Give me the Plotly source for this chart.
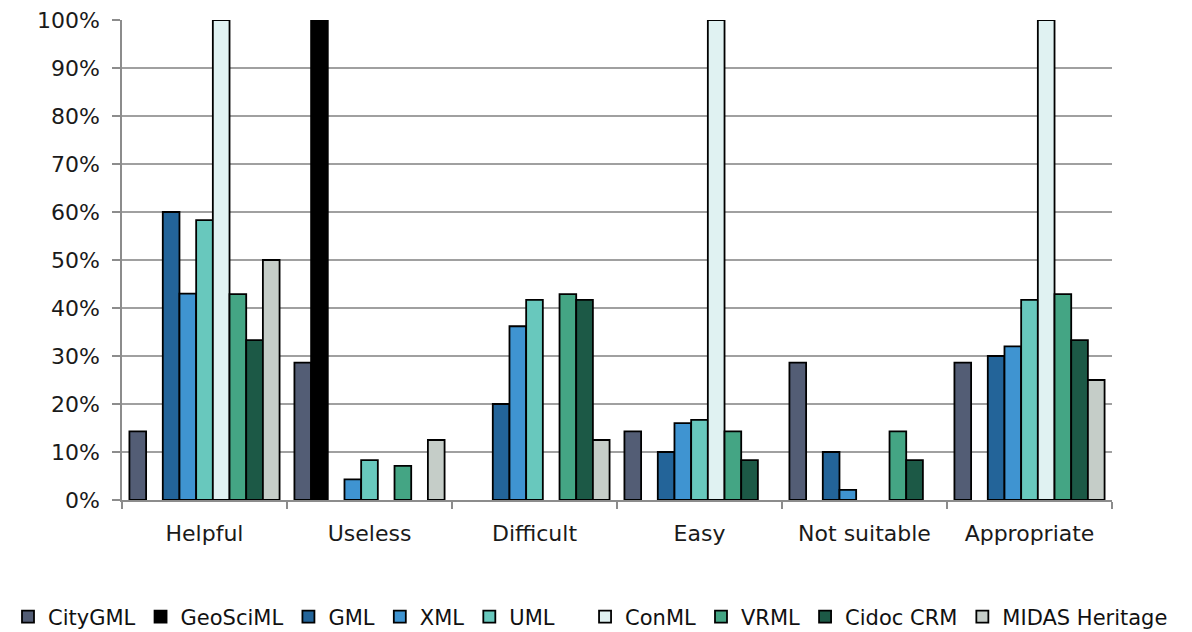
import plotly.graph_objects as go

categories = ["Helpful", "Useless", "Difficult", "Easy", "Not suitable", "Appropriate"]

series_names = ["CityGML", "GeoSciML", "GML", "XML", "UML", "ConML", "VRML", "Cidoc CRM", "MIDAS Heritage"]

citygml = [14.3, 28.6, 0, 14.3, 28.6, 28.6]
geosciml = [0, 100, 0, 0, 0, 0]
gml = [60, 0, 20, 10, 10, 30]
xml = [43, 4.3, 36.2, 16, 2.1, 32]
uml = [58.3, 8.3, 41.7, 16.7, 0, 41.7]
conml = [100, 0, 0, 100, 0, 100]
vrml = [42.9, 7.1, 42.9, 14.3, 14.3, 42.9]
cidoc = [33.3, 0, 41.7, 8.3, 8.3, 33.3]
midas = [50, 12.5, 12.5, 0, 0, 25]

series_values = [citygml, geosciml, gml, xml, uml, conml, vrml, cidoc, midas]
colors = ["#535d75", "#000000", "#236499", "#3f94d1", "#68c8bd",
          "#e0f2f2", "#44a584", "#1c5946", "#c5cdc8"]

y_ticks = list(range(0, 101, 10))
y_labels = [f"{v}%" for v in y_ticks]

fig = go.Figure()
for i, (name, vals, col) in enumerate(zip(series_names, series_values, colors)):
    fig.add_trace(go.Bar(
        name=name, x=categories,
        y=[v if v else None for v in vals],
        marker=dict(color=col, line=dict(color="#000000", width=1.8)),
        legend="legend" if i < 5 else "legend2",
    ))

font_family = "DejaVu Sans, sans-serif"
leg_common = dict(
    orientation="h", xref="container", yref="container",
    y=0.024, yanchor="middle",
    font=dict(size=21, color="#111111"), itemwidth=30, tracegroupgap=0,
    bgcolor="rgba(0,0,0,0)",
)
fig.update_layout(
    width=1184, height=624,
    margin=dict(l=114, r=80, t=12, b=132, autoexpand=False),
    paper_bgcolor="white", plot_bgcolor="white",
    barmode="group", bargap=0.09, bargroupgap=0,
    font=dict(family=font_family, size=22, color="#1a1a1a"),
    showlegend=True,
    legend=dict(x=-0.008, xanchor="left", **leg_common),
    legend2=dict(x=0.984, xanchor="right", **leg_common),
)
fig.update_xaxes(
    showline=True, linecolor="#8c8c8c", linewidth=1.5,
    ticks="outside", tickson="boundaries", ticklen=7, tickcolor="#8c8c8c", tickwidth=1.5,
    tickfont=dict(size=22), showgrid=False, ticklabelstandoff=13, automargin=False,
)
fig.update_yaxes(
    range=[0, 100], tickvals=y_ticks, ticktext=y_labels,
    showline=True, linecolor="#8c8c8c", linewidth=1.5,
    ticks="outside", ticklen=8, tickcolor="#8c8c8c", tickwidth=1.5,
    showgrid=True, gridcolor="#a0a0a0", gridwidth=1.6,
    tickfont=dict(size=22), zeroline=False, automargin=False,
    ticklabelstandoff=8, ticklabeloverflow="allow",
)

fig.write_html("out.html")
